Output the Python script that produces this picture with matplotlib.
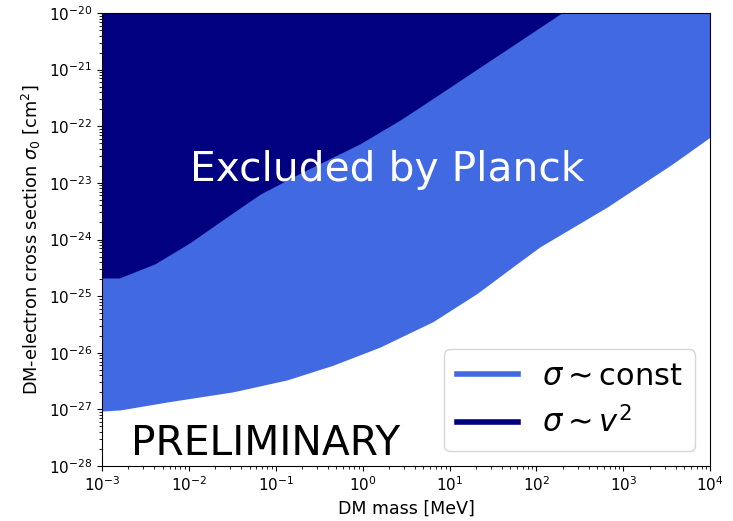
import numpy as np
import matplotlib
matplotlib.use("Agg")
import matplotlib.pyplot as plt

# Boundaries (log10 values)
v2_logm = [-3.0, -2.80, -2.39, -1.99, -1.56, -1.18, -0.72, -0.03, 0.43, 0.66, 2.27, 4.0]
v2_logs = [-24.68, -24.68, -24.43, -24.06, -23.60, -23.20, -22.83, -22.31, -21.89, -21.66, -20.02, -18.3]

const_logm = [-3.0, -2.79, -2.25, -1.49, -0.87, -0.34, 0.20, 0.81, 1.32, 1.73, 2.04, 2.81, 3.57, 4.0]
const_logs = [-27.03, -27.01, -26.87, -26.69, -26.48, -26.22, -25.90, -25.45, -24.95, -24.48, -24.13, -23.43, -22.66, -22.19]

top = 1e-20

fig = plt.figure(figsize=(7.33, 5.21), dpi=100)
ax = fig.add_axes([0.139, 0.1056, 0.830, 0.8694])

m_c = 10 ** np.array(const_logm)
s_c = 10 ** np.array(const_logs)
m_v = 10 ** np.array(v2_logm)
s_v = 10 ** np.array(v2_logs)

ax.fill_between(m_c, s_c, top, color='royalblue', lw=0)
ax.fill_between(m_v, s_v, top, color='navy', lw=0)

ax.plot([], [], color='royalblue', lw=4, label=r'$\sigma\sim\mathrm{const}$')
ax.plot([], [], color='navy', lw=4, label=r'$\sigma\sim v^2$')

ax.set_xscale('log')
ax.set_yscale('log')
ax.set_xlim(1e-3, 1e4)
ax.set_ylim(1e-28, 1e-20)
ax.set_xticks([10.0 ** k for k in range(-3, 5)])
ax.set_yticks([10.0 ** k for k in range(-28, -19)])
ax.tick_params(labelsize=11)

ax.set_xlabel('DM mass [MeV]', fontsize=12.5)
ax.set_ylabel(r'DM-electron cross section $\sigma_0$ [cm$^2$]', fontsize=12.8)

ax.text(10 ** 0.28, 10 ** -22.77, 'Excluded by Planck', color='white',
        fontsize=29.3, ha='center', va='center')
ax.text(10 ** -1.12, 10 ** -27.62, 'PRELIMINARY', color='black',
        fontsize=29.3, ha='center', va='center')

ax.legend(loc='lower right', fontsize=22, handlelength=2)

fig.savefig('out.png', dpi=100)
